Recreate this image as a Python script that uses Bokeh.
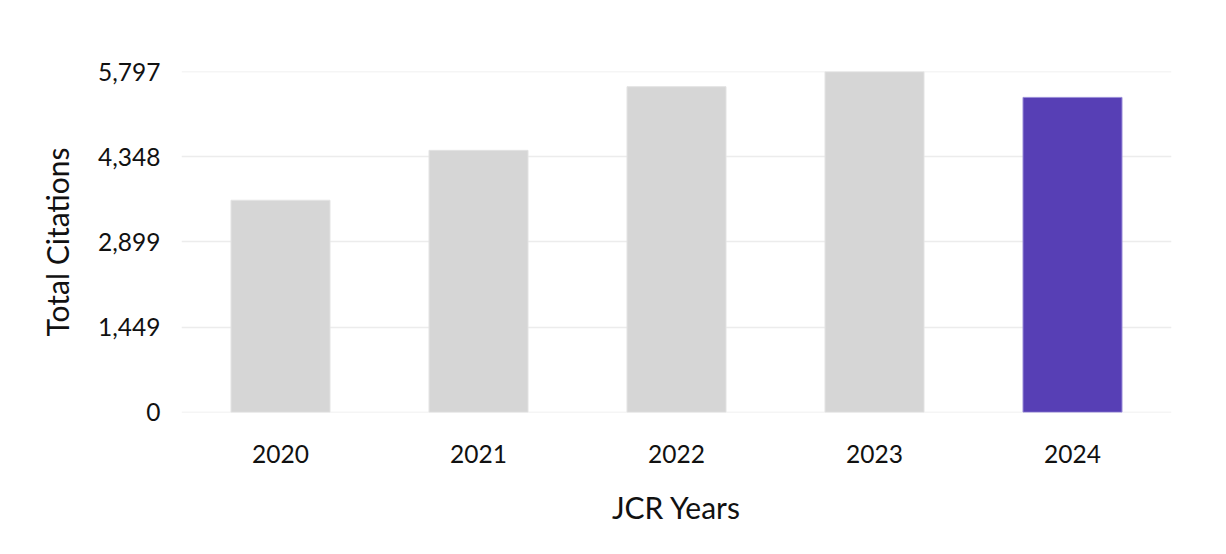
from bokeh.plotting import figure
from bokeh.models import ColumnDataSource, FixedTicker, Range1d, FactorRange
from bokeh.embed import file_html
from bokeh.resources import INLINE

years = ["2020", "2021", "2022", "2023", "2024"]
citations = [3609, 4459, 5542, 5797, 5360]
fill_colors = ["#d6d6d6", "#d6d6d6", "#d6d6d6", "#d6d6d6", "#573fb5"]
line_colors = ["#e3e3e3", "#e3e3e3", "#e3e3e3", "#e3e3e3", "#9a8cd8"]
y_ticks = [0, 1449, 2899, 4348, 5797]
y_tick_labels = ["0", "1,449", "2,899", "4,348", "5,797"]

src = ColumnDataSource(dict(years=years, citations=citations,
                            fill=fill_colors, line=line_colors))

p = figure(x_range=FactorRange(*years), y_range=Range1d(-4, 5801),
           width=1210, height=538, output_backend="svg", toolbar_location=None,
           min_border_left=181, min_border_right=39, min_border_top=71,
           min_border_bottom=126)

p.vbar(x="years", top="citations", width=0.5, bottom=0, source=src,
       fill_color="fill", line_color="line", line_width=1)

p.outline_line_color = None
p.xgrid.grid_line_color = None
p.ygrid.grid_line_color = "#ececec"
p.ygrid.grid_line_width = 1.5
p.yaxis.ticker = FixedTicker(ticks=y_ticks)
p.yaxis.major_label_overrides = {t: l for t, l in zip(y_ticks, y_tick_labels)}

for ax in (p.xaxis[0], p.yaxis[0]):
    ax.axis_line_color = None
    ax.major_tick_line_color = None
    ax.minor_tick_line_color = None
    ax.major_label_text_font = "Lato"
    ax.major_label_text_font_size = "24.5px"
    ax.major_label_text_color = "#111111"
    ax.axis_label_text_font = "Lato"
    ax.axis_label_text_font_size = "30px"
    ax.axis_label_text_font_style = "normal"
    ax.axis_label_text_color = "#111111"

p.yaxis.axis_label = "Total Citations"
p.yaxis.major_label_standoff = 15
p.yaxis.axis_label_standoff = 20
p.xaxis.axis_label = "JCR Years"
p.xaxis.major_label_standoff = 26
p.xaxis.axis_label_standoff = 23

open("out.html", "w").write(file_html(p, INLINE))
